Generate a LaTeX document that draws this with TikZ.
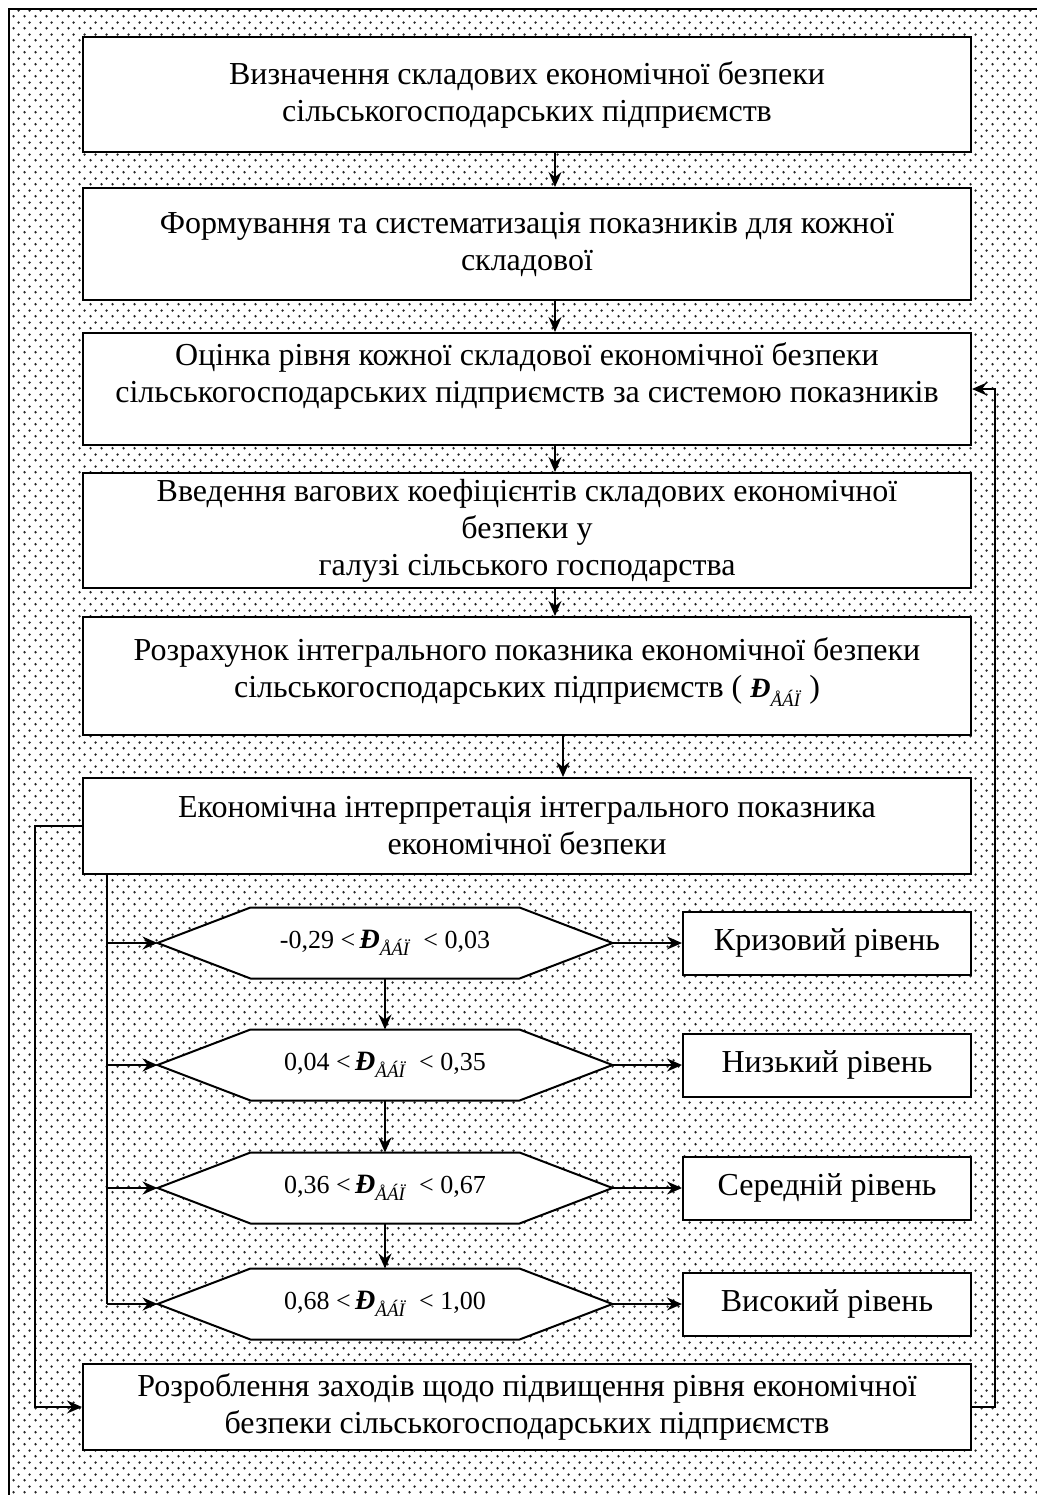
\documentclass[tikz,border=0pt]{standalone}
\usepackage{fontspec}
\setmainfont{Liberation Serif}
\usepackage{tikz}
\usetikzlibrary{arrows.meta,patterns,positioning}
\pgfdeclarepatternformonly{hexdots}{\pgfpointorigin}{\pgfqpoint{5.5pt}{5.8pt}}{\pgfqpoint{5.5pt}{5.8pt}}{%
    \pgfpathcircle{\pgfqpoint{1.375pt}{1.45pt}}{0.7pt}
    \pgfpathcircle{\pgfqpoint{4.125pt}{4.35pt}}{0.7pt}
    \pgfusepath{fill}}
\newcommand{\ebp}{{\fontsize{14}{14}\selectfont\textbf{\textit{Đ}}}\raisebox{-0.55ex}{\fontsize{9.5}{10}\selectfont\textit{ÅÁÏ}}}

\begin{document}
\begin{tikzpicture}[x=0.5pt,y=-0.5pt,
    box/.style={draw,line width=1pt,fill=white,minimum width=444pt,align=center,inner sep=2pt,
        font=\fontsize{16}{18.5}\selectfont},
    hexbox/.style={minimum width=134.5pt,minimum height=35.5pt,inner sep=0,
        font=\fontsize{13}{16}\selectfont},
    levbox/.style={draw,line width=1pt,fill=white,minimum width=144pt,minimum height=31.5pt,
        font=\fontsize{16}{18}\selectfont},
    arr/.style={-{Stealth[length=7.5pt,width=6.5pt,inset=2.5pt]},line width=0.8pt}]
    \useasboundingbox (0,0) rectangle (1037,1495);
    % dotted background with top and left frame
    \fill[pattern=hexdots,pattern color=black!85] (9,9) rectangle (1037,1495);
    \draw[line width=0.9pt] (1037,9) -- (9,9) -- (9,1495);
    % main chain
    \node[box,minimum height=57.5pt] (b1) at (527,94.5)
        {Визначення складових економічної безпеки\\сільськогосподарських підприємств};
    \node[box,minimum height=56pt] (b2) at (527,244)
        {Формування та систематизація показників для кожної\\складової};
    \node[box,minimum height=56pt] (b3) at (527,389)
        {Оцінка рівня кожної складової економічної безпеки\\сільськогосподарських підприємств за системою показників\\[-2.5pt]};
    \node[box,minimum height=57.5pt] (b4) at (527,530.5)
        {Введення вагових коефіцієнтів складових економічної\\безпеки у\\галузі сільського господарства};
    \node[box,minimum height=59pt] (b5) at (527,676)
        {Розрахунок інтегрального показника економічної безпеки\\сільськогосподарських підприємств ( \ebp\ )\\[-10.5pt]};
    \node[box,minimum height=48pt] (b6) at (527,826)
        {Економічна інтерпретація інтегрального показника\\економічної безпеки};
    \node[box,minimum height=43pt] (b7) at (527,1407)
        {Розроблення заходів щодо підвищення рівня економічної\\безпеки сільськогосподарських підприємств};
    \draw[arr] (b1.south -| 555,0) -- (b2.north -| 555,0);
    \draw[arr] (b2.south -| 555,0) -- (b3.north -| 555,0);
    \draw[arr] (b3.south -| 555,0) -- (b4.north -| 555,0);
    \draw[arr] (b4.south -| 555,0) -- (b5.north -| 555,0);
    \draw[arr] (b5.south -| 563,0) -- (b6.north -| 563,0);
    % interpretation levels
    \coordinate (bus) at (107,874);
    \foreach \i/\yy/\lo/\hi/\lev in {1/943/{-0,29}/{0,03}/Кризовий,2/1065/{0,04}/{0,35}/Низький,
        3/1188/{0,36}/{0,67}/Середній,4/1304/{0,68}/{1,00}/Високий} {
        \path (385,\yy) ++(-134.5,-35.5) coordinate (hnw\i) ++(269,71) coordinate (hse\i);
        \path (hnw\i) ++(-93,35.5) coordinate (hl\i);
        \path (hse\i) ++(93,-35.5) coordinate (hr\i);
        \draw[line width=1pt,fill=white] (hnw\i) -- (hnw\i -| hse\i) -- (hr\i)
            -- (hse\i) -- (hse\i -| hnw\i) -- (hl\i) -- cycle;
        \node[hexbox] (h\i) at (385,\yy) {\lo\ <\,\ebp\ \ <\ \hi};
        \node[levbox] (lv\i) at (827,\yy) {\lev\ рівень};
        \draw[arr] (hr\i) -- (lv\i.west);
        \draw[arr] (bus |- hl\i) -- (hl\i);
    }
    \draw[line width=0.8pt] (bus) -- (bus |- hl4);
    \foreach \i [count=\j from 2] in {1,2,3}
        \draw[arr] (hse\i -| h\i) -- (hnw\j -| h\j);
    % feedback loops
    \draw[arr] (b6.west) -- (35,826) |- (b7.west);
    \draw[arr] (b7.east) -- (995,1407) |- (b3.east);
\end{tikzpicture}
\end{document}
